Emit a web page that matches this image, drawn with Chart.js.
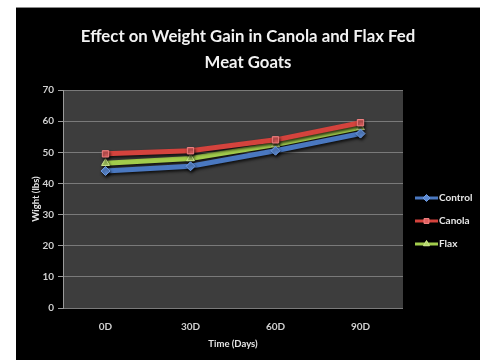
<!DOCTYPE html>
<html>
<head>
<meta charset="utf-8">
<script src="https://cdn.jsdelivr.net/npm/chart.js@4/dist/chart.umd.min.js"></script>
<style>
    html, body { margin: 0; padding: 0; background: #ffffff; }
    #frame {
        position: absolute;
        left: 16px;
        top: 7px;
        width: 464px;
        height: 353px;
        background: #000000;
        border-top: 1px solid #8a8a8a;
    }
    #weightChart { display: block; }
</style>
</head>
<body>
<div id="frame">
    <canvas id="weightChart" width="464" height="353"></canvas>
</div>
<script>
// Sampling days and mean goat weight (lbs) for each feed group
const days = ['0D', '30D', '60D', '90D'];
const control = [44, 45.5, 50.5, 56];
const canola = [49.5, 50.5, 54, 59.5];
const flax = [46.5, 48, 52.5, 58];

const FONT = "Lato, 'Open Sans', sans-serif";

// Grey plot background behind the gridlines
const plotFill = {
    id: 'plotFill',
    beforeDraw(chart) {
        const { ctx, chartArea: a } = chart;
        ctx.save();
        ctx.fillStyle = '#3d3d3d';
        ctx.fillRect(a.left, a.top, a.right - a.left, a.bottom - a.top);
        ctx.restore();
    }
};

// Soft drop shadow under the series lines
const lineShadow = {
    id: 'lineShadow',
    beforeDatasetsDraw(chart) {
        const ctx = chart.ctx;
        ctx.save();
        ctx.shadowColor = 'rgba(0, 0, 0, 0.75)';
        ctx.shadowOffsetY = 2;
        ctx.shadowOffsetX = 1;
        ctx.shadowBlur = 3;
    },
    afterDatasetsDraw(chart) {
        chart.ctx.restore();
    }
};

// Legend on the right: short line with the marker in the middle, then the name
const sideLegend = {
    id: 'sideLegend',
    afterDraw(chart) {
        const ctx = chart.ctx;
        const x0 = 399, x1 = 422;
        let y = 190;
        ctx.save();
        chart.data.datasets.forEach(ds => {
            ctx.strokeStyle = ds.borderColor;
            ctx.lineWidth = 3;
            ctx.beginPath();
            ctx.moveTo(x0, y);
            ctx.lineTo(x1, y);
            ctx.stroke();
            ctx.fillStyle = ds.pointBackgroundColor;
            ctx.strokeStyle = ds.pointBorderColor;
            ctx.lineWidth = 1;
            Chart.helpers.drawPoint(ctx, { pointStyle: ds.pointStyle, radius: 3.5, borderWidth: 1 }, (x0 + x1) / 2, y);
            ctx.fillStyle = '#e6e6e6';
            ctx.font = 'bold 10px ' + FONT;
            ctx.textBaseline = 'middle';
            ctx.fillText(ds.label, x1 + 1, y);
            y += 23;
        });
        ctx.restore();
    }
};

function series(label, data, color, marker, markerColor, style) {
    return {
        label: label,
        data: data,
        yAxisID: 'y',
        borderColor: color,
        borderWidth: 5,
        tension: 0,
        pointStyle: style,
        pointRadius: 4.5,
        pointBorderWidth: 1,
        pointBackgroundColor: markerColor,
        pointBorderColor: marker
    };
}

new Chart(document.getElementById('weightChart'), {
    type: 'line',
    data: {
        labels: days,
        datasets: [
            series('Control', control, '#4a78c0', '#6f9be0', '#5a88d0', 'rectRot'),
            series('Canola', canola, '#d4433d', '#f08080', '#e06060', 'rect'),
            series('Flax', flax, '#a2cc4c', '#cfe890', '#b4d868', 'triangle')
        ]
    },
    plugins: [plotFill, lineShadow, sideLegend],
    options: {
        responsive: false,
        animation: false,
        plugins: {
            legend: { display: false },
            tooltip: { enabled: false },
            title: {
                display: true,
                text: ['Effect on Weight Gain in Canola and Flax Fed', 'Meat Goats'],
                color: '#f2f2f2',
                font: { family: FONT, size: 16.75, weight: 'bold', lineHeight: 26 / 16.75 },
                padding: { top: 16, bottom: 14 }
            }
        },
        scales: {
            x: {
                offset: true,
                grid: { display: false },
                border: { display: false },
                ticks: {
                    color: '#d0d0d0',
                    padding: 5,
                    font: { family: FONT, size: 10, weight: 'bold' }
                },
                title: {
                    display: true,
                    text: 'Time (Days)',
                    color: '#e6e6e6',
                    padding: { top: 0, bottom: 11 },
                    font: { family: FONT, size: 9.5, weight: 'bold' }
                },
                afterFit: scale => { scale.height = 53; }
            },
            y: {
                min: 0,
                max: 70,
                ticks: {
                    stepSize: 10,
                    color: '#d0d0d0',
                    padding: 4,
                    font: { family: FONT, size: 10, weight: 'bold' }
                },
                grid: {
                    color: '#7a7a7a',
                    lineWidth: 1,
                    tickLength: 5,
                    tickColor: '#9a9a9a'
                },
                border: { display: true, color: '#9a9a9a' },
                title: {
                    display: true,
                    text: 'Wight (lbs)',
                    color: '#e6e6e6',
                    padding: { top: 14, bottom: 0 },
                    font: { family: FONT, size: 9.5, weight: 'bold' }
                },
                afterFit: scale => { scale.width = 47; }
            },
            // empty right-hand axis that reserves room for the legend
            legendSpace: {
                position: 'right',
                grid: { display: false },
                border: { display: false },
                ticks: { display: false },
                afterFit: scale => { scale.width = 77; }
            }
        }
    }
});
</script>
</body>
</html>
